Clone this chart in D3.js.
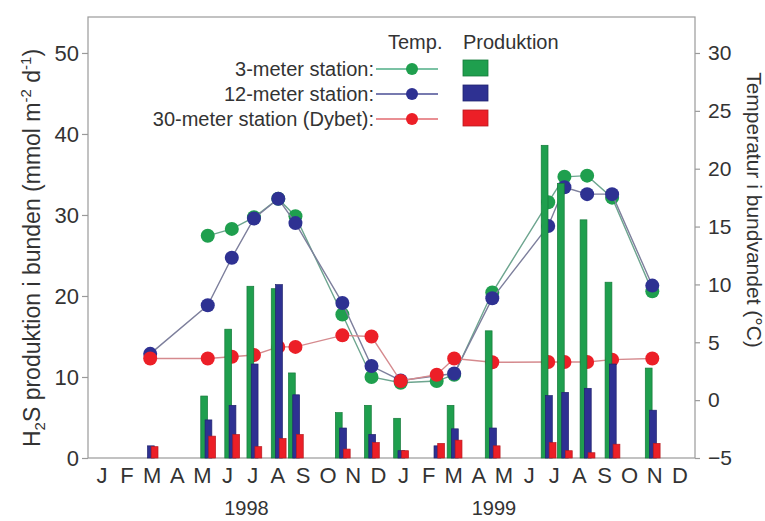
<!DOCTYPE html>
<html><head><meta charset="utf-8">
<script src="https://cdn.jsdelivr.net/npm/d3@7"></script>
<style>
body{margin:0;background:#fff;}
svg text{font-family:"Liberation Sans",Arial,Helvetica,sans-serif;fill:#333;}
</style>
</head><body>
<svg id="chart" width="765" height="521"></svg>
<script>
// ---- data ----
const monthLabels = ["J","F","M","A","M","J","J","A","S","O","N","D","J","F","M","A","M","J","J","A","S","O","N","D"];
const yearLabels = ["1998","1999"];
const yearLabelMonth = [6.25, 16.1];
const sampleDates = ["1998-03-14","1998-05-23","1998-06-21","1998-07-18","1998-08-17","1998-09-07","1998-11-03","1998-12-08","1999-01-13","1999-02-24","1999-03-17","1999-05-02","1999-07-09","1999-07-29","1999-08-26","1999-09-25","1999-11-13"];
// H2S production (mmol m-2 d-1)
const prod3  = [null, 7.65, 15.9, 21.2, 20.9, 10.5, 5.6, 6.5, 4.9, null, 6.5, 15.7, 38.6, 33.9, 29.4, 21.7, 11.1];
const prod12 = [1.5, 4.7, 6.5, 11.6, 21.4, 7.8, 3.7, 2.9, 0.9, 1.5, 3.6, 3.7, 7.7, 8.1, 8.6, 11.6, 5.9];
const prod30 = [1.4, 2.7, 2.9, 1.4, 2.4, 2.9, 1.1, 1.9, 0.9, 1.8, 2.2, 1.5, 1.9, 0.9, 0.65, 1.7, 1.8];
// bottom water temperature (°C)
const temp3  = [null, 14.2, 14.8, 15.8, 17.4, 15.9, 7.4, 2.0, 1.5, 1.65, 2.2, 9.3, 17.1, 19.3, 19.4, 17.5, 9.4];
const temp12 = [4.0, 8.2, 12.3, 15.7, 17.4, 15.3, 8.4, 2.95, 1.7, null, 2.3, 8.8, 15.05, 18.4, 17.8, 17.8, 9.9];
const temp30 = [3.6, 3.6, 3.75, 3.9, 4.6, 4.6, 5.6, 5.5, 1.65, 2.2, 3.6, 3.27, 3.3, 3.3, 3.3, 3.5, 3.6];
const leftTicks = [0,10,20,30,40,50];
const rightTicks = [-5,0,5,10,15,20,25,30];
const stationNames = ["3-meter station:","12-meter station:","30-meter station (Dybet):"];

// ---- styles ----
const fills   = ["#1f9f4e","#2e3192","#ec1f27"];
const strokes = ["#157a3a","#20236e","#b8191f"];
const lineCols = ["#6da58f","#7d7f9c","#d58a8e"];
const legLineCols = ["#4fae86","#4a4e95","#e26a6f"];

const svg = d3.select("#chart");
const L = 88, R = 695, T = 17, B = 458;

function mf(s){const [y,m,d]=s.split("-").map(Number);const dim=new Date(y,m,0).getDate();return (y-1998)*12+(m-1)+(d-1)/dim;}
const xs = sampleDates.map(mf);

const x = d3.scaleLinear().domain([0,24]).range([89.4,692.5]);
const yL = d3.scaleLinear().domain([0,54.44]).range([B,T]);
const yR = d3.scaleLinear().domain([-5,33.11]).range([B,T]);

// frame
svg.append("rect").attr("x",L).attr("y",T).attr("width",R-L).attr("height",B-T)
  .attr("fill","none").attr("stroke","#9a9a9a").attr("stroke-width",1.2);

// left axis
const gl = svg.append("g").attr("transform",`translate(${L},0)`)
  .call(d3.axisLeft(yL).tickValues(leftTicks).tickSize(6).tickPadding(3));
gl.select(".domain").remove();
gl.selectAll("line").attr("stroke","#9a9a9a").attr("stroke-width",1.2);
gl.selectAll("text").style("font-size","22px").attr("fill","#333");

// right axis
const gr = svg.append("g").attr("transform",`translate(${R},0)`)
  .call(d3.axisRight(yR).tickValues(rightTicks).tickSize(5).tickPadding(8));
gr.select(".domain").remove();
gr.selectAll("line").attr("stroke","#9a9a9a").attr("stroke-width",1.2);
gr.selectAll("text").style("font-size","21px").attr("fill","#333");

// month labels
svg.append("g").selectAll("text").data(monthLabels).join("text")
  .attr("x",(d,i)=>x(i+0.5)).attr("y",483).attr("text-anchor","middle")
  .style("font-size","22px").text(d=>d);
svg.append("g").selectAll("text").data(yearLabels).join("text")
  .attr("x",(d,i)=>x(yearLabelMonth[i])).attr("y",515).attr("text-anchor","middle")
  .style("font-size","20px").text(d=>d);

// axis titles
const lt = svg.append("text").attr("transform","translate(40,248) rotate(-90)")
  .attr("text-anchor","middle").style("font-size","23px");
lt.append("tspan").text("H");
lt.append("tspan").attr("dy",5).style("font-size","15px").text("2");
lt.append("tspan").attr("dy",-5).text("S produktion i bunden (mmol m");
lt.append("tspan").attr("dy",-9).style("font-size","15px").text("-2");
lt.append("tspan").attr("dy",9).text(" d");
lt.append("tspan").attr("dy",-9).style("font-size","15px").text("-1");
lt.append("tspan").attr("dy",9).text(")");

svg.append("text").attr("transform","translate(747,210) rotate(90)")
  .attr("text-anchor","middle").style("font-size","21px").text("Temperatur i bundvandet (°C)");

// temperature series
const temps = [temp3,temp12,temp30];
const line = d3.line().x(d=>x(d.m)).y(d=>yR(d.t));
temps.forEach((arr,k)=>{
  const pts = arr.map((t,i)=>({m:xs[i],t})).filter(d=>d.t!=null);
  svg.append("path").datum(pts).attr("d",line).attr("fill","none")
    .attr("stroke",lineCols[k]).attr("stroke-width",1.4);
  svg.append("g").selectAll("circle").data(pts).join("circle")
    .attr("cx",d=>x(d.m)).attr("cy",d=>yR(d.t)).attr("r",7)
    .attr("fill",fills[k]);
});

// production bars
const prods = [prod3,prod12,prod30];
const offs = [-7,-2.7,1];
const bw = 6.8;
xs.forEach((m,i)=>{
  prods.forEach((arr,k)=>{
    const v = arr[i];
    if(v==null) return;
    svg.append("rect").attr("x",x(m)+offs[k]).attr("y",yL(v))
      .attr("width",bw).attr("height",yL(0)-yL(v))
      .attr("fill",fills[k]).attr("stroke",strokes[k]).attr("stroke-width",0.7);
  });
});

// legend
svg.append("text").attr("x",388).attr("y",49).style("font-size","20px").text("Temp.");
svg.append("text").attr("x",463).attr("y",49).style("font-size","20px").text("Produktion");
const rowY = [69,94,119];
stationNames.forEach((name,k)=>{
  const y0 = rowY[k];
  svg.append("text").attr("x",374).attr("y",y0+6.5).attr("text-anchor","end")
    .style("font-size","20px").text(name);
  svg.append("line").attr("x1",376).attr("x2",438).attr("y1",y0).attr("y2",y0)
    .attr("stroke",legLineCols[k]).attr("stroke-width",1.3);
  svg.append("circle").attr("cx",412).attr("cy",y0).attr("r",6).attr("fill",fills[k]);
  svg.append("rect").attr("x",463).attr("y",y0-9).attr("width",25).attr("height",16)
    .attr("fill",fills[k]).attr("stroke",strokes[k]).attr("stroke-width",0.8);
});
</script>
</body></html>
